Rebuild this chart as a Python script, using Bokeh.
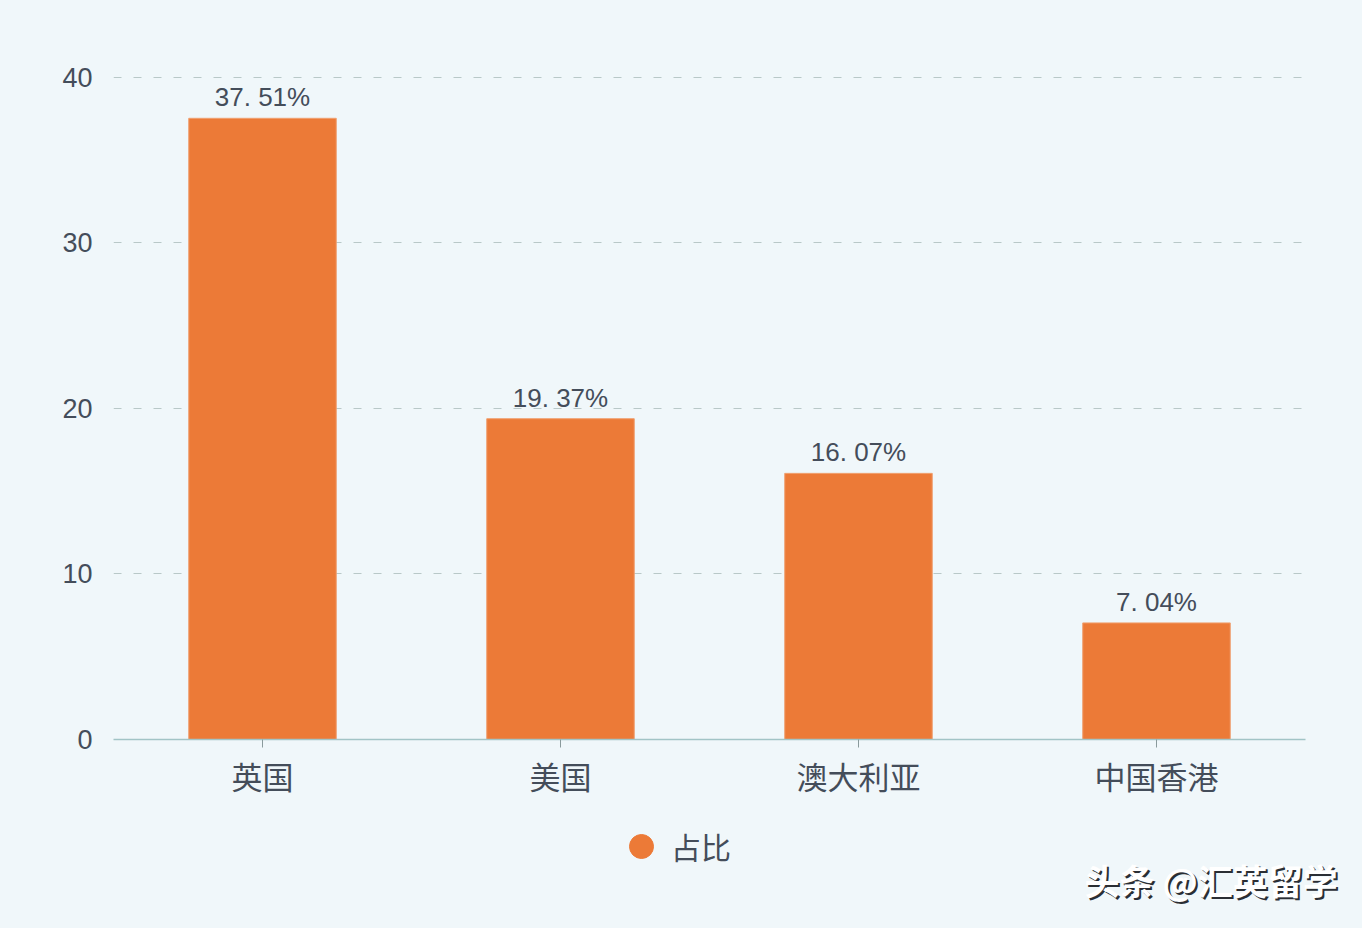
from bokeh.plotting import figure
from bokeh.layouts import column, row
from bokeh.embed import file_html
from bokeh.resources import INLINE
from bokeh.models import ColumnDataSource, Label, Legend, LegendItem, FixedTicker, Range1d
from bokeh.core.properties import value

categories = ["英国", "美国", "澳大利亚", "中国香港"]
shares = [37.51, 19.37, 16.07, 7.04]
share_labels = ["37. 51%", "19. 37%", "16. 07%", "7. 04%"]
y_ticks = [0, 10, 20, 30, 40]
series_name = "占比"
watermark = "头条 @汇英留学"

BG = "#f0f7fa"
ORANGE = "#ec7a37"
INK = "#444d5a"
CJK = "Noto Sans CJK SC"

source = ColumnDataSource(dict(cat=categories, val=shares, lab=share_labels))

p = figure(width=1362, height=800, x_range=categories, y_range=(0, 41),
           output_backend="svg", toolbar_location=None,
           background_fill_color=BG, border_fill_color=BG,
           min_border_left=113, min_border_right=57, min_border_top=60, min_border_bottom=60)
p.outline_line_color = None
p.xgrid.grid_line_color = None
p.ygrid.grid_line_color = "#b9c8c8"
p.ygrid.grid_line_dash = "8 12"
p.ygrid.grid_line_width = 1.2

p.yaxis.ticker = FixedTicker(ticks=y_ticks)
p.yaxis.axis_line_color = None
p.yaxis.major_tick_line_color = None
p.yaxis.minor_tick_line_color = None
p.yaxis.major_label_standoff = 15
p.yaxis.major_label_text_font = "Liberation Sans"
p.yaxis.major_label_text_font_size = "27px"
p.yaxis.major_label_text_color = INK

p.xaxis.axis_line_color = "#a2c4c6"
p.xaxis.axis_line_width = 1.5
p.xaxis.major_tick_line_color = "#8a9a9c"
p.xaxis.major_tick_in = 0
p.xaxis.major_tick_out = 8
p.xaxis.minor_tick_line_color = None
p.xaxis.major_label_standoff = 5
p.xaxis.major_label_text_font = CJK
p.xaxis.major_label_text_font_size = "31px"
p.xaxis.major_label_text_color = INK

p.vbar(x="cat", top="val", width=0.495, source=source,
       fill_color=ORANGE, line_color="#f0a070", line_width=1)

p.text(x="cat", y="val", text="lab", source=source, text_align="center", text_baseline="bottom",
       y_offset=-6, text_font=value("Liberation Sans"), text_font_size="26px", text_color=INK)

# Strip below the chart: legend and watermark, which the main frame would clip.
q = figure(width=1362, height=128, x_range=Range1d(0, 1), y_range=Range1d(0, 1),
           output_backend="svg", toolbar_location=None, x_axis_location=None, y_axis_location=None,
           background_fill_color=BG, border_fill_color=BG,
           min_border_left=0, min_border_right=0, min_border_top=0, min_border_bottom=0)
q.outline_line_color = None
q.grid.visible = False

marker = q.scatter(x=[0], y=[float("nan")], size=26, marker="circle",
                   fill_color=ORANGE, line_color=ORANGE)
legend = Legend(items=[LegendItem(label=series_name, renderers=[marker])],
                location=(611, 50), orientation="horizontal",
                background_fill_alpha=0, border_line_color=None,
                label_text_font=CJK, label_text_font_size="30px", label_text_color=INK,
                glyph_width=60, glyph_height=64, padding=0, margin=0, label_standoff=0)
q.add_layout(legend, "center")

for dx, dy, col in [(2, 2, "#2a2e34"), (0, 0, "#ffffff")]:
    q.add_layout(Label(x=1084 + dx, y=24 - dy, x_units="screen", y_units="screen", text=watermark,
                       text_font=CJK, text_font_size="35px", text_color=col, text_font_style="bold"))

page = column(p, row(q, spacing=0), spacing=0)
html = file_html(page, INLINE)
html = html.replace("<head>", "<head><style>html,body{background:" + BG + ";}</style>", 1)
open("out.html", "w").write(html)
